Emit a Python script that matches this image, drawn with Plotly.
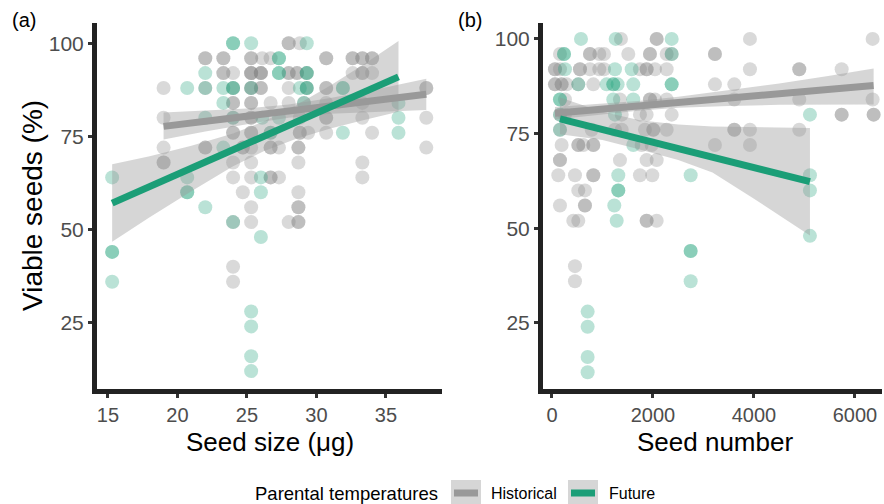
import numpy as np
import plotly.graph_objects as go

# ---------------- Panel (a): seed size ----------------
a_hist_x = [28.0, 28.8,
            22.0, 23.3, 25.3, 26.1, 26.7, 30.7, 32.6, 33.3, 34.0,
            23.3, 24.0, 25.3, 26.0, 28.0, 28.6, 29.3, 32.6, 33.3, 34.0,
            19.0, 22.0, 24.0, 25.3, 26.0, 28.0, 29.3, 30.7, 37.9,
            24.0, 25.3, 26.7, 28.0, 29.1, 30.7, 33.3,
            19.0, 24.0, 25.3, 28.8, 30.7, 33.3, 37.9,
            24.0, 25.3, 26.7, 28.8, 29.4, 30.7, 34.0,
            19.0, 22.0, 24.7, 25.3, 26.7, 27.3, 28.7, 37.9,
            19.0, 24.0, 25.3, 28.7, 33.3,
            24.0, 25.3, 26.7, 27.3, 33.3,
            24.7, 28.7,
            25.3, 28.7,
            24.0, 25.3, 28.0, 28.7,
            24.0, 24.0]
a_hist_y = [100, 100,
            96, 96, 96, 96, 96, 96, 96, 96, 96,
            92, 92, 92, 92, 92, 92, 92, 92, 92, 92,
            88, 88, 88, 88, 88, 88, 88, 88, 88,
            84, 84, 84, 84, 84, 84, 84,
            80, 80, 80, 80, 80, 80, 80,
            76, 76, 76, 76, 76, 76, 76,
            72, 72, 72, 72, 72, 72, 72, 72,
            68, 68, 68, 68, 68,
            64, 64, 64, 64, 64,
            60, 60,
            56, 56,
            52, 52, 52, 52,
            40, 36]
a_hist_n = [2, 1,
            2, 2, 2, 1, 1, 2, 2, 2, 2,
            2, 1, 3, 3, 2, 2, 1, 1, 2, 1,
            1, 1, 1, 2, 2, 1, 1, 2, 2,
            2, 2, 1, 1, 1, 1, 1,
            1, 1, 2, 1, 2, 1, 1,
            2, 2, 1, 2, 1, 1, 1,
            1, 2, 2, 1, 2, 1, 2, 1,
            2, 1, 1, 1, 1,
            1, 1, 2, 1, 1,
            1, 1,
            1, 2,
            1, 1, 1, 2,
            1, 1]

a_fut_x = [24.0, 25.3, 29.3,
           27.3,
           22.0, 27.3, 29.3,
           20.7, 22.0, 23.3, 24.0, 25.3, 28.8, 29.3, 31.9,
           23.3, 29.1, 35.9,
           22.0, 24.0, 26.1, 27.3, 35.9,
           26.7, 31.9, 35.9,
           23.3,
           15.3, 20.7, 26.0,
           20.7, 26.0,
           22.0, 24.0, 26.0, 15.3, 15.3,
           25.3, 25.3, 25.3, 25.3]
a_fut_y = [100, 100, 100,
           96,
           92, 92, 92,
           88, 88, 88, 88, 88, 88, 88, 88,
           84, 84, 84,
           80, 80, 80, 80, 80,
           76, 76, 76,
           72,
           64, 64, 64,
           60, 60,
           56, 52, 48, 44, 36,
           28, 24, 16, 12]
a_fut_n = [2, 1, 1,
           2,
           1, 2, 2,
           1, 1, 1, 2, 1, 1, 2, 2,
           1, 1, 1,
           1, 1, 1, 1, 1,
           1, 1, 1,
           1,
           1, 1, 1,
           2, 1,
           1, 1, 1, 2, 1,
           1, 1, 1, 1]

# fitted lines and confidence bands
a_hist_fit_x = [19.0, 37.9]
a_hist_fit_y = [77.7, 86.3]
a_hist_band_x = [19.0, 22.0, 25.0, 28.0, 31.0, 34.0, 37.9]
a_hist_band_lo = [74.2, 76.3, 78.3, 80.0, 81.1, 81.6, 82.1]
a_hist_band_hi = [81.4, 82.0, 82.5, 83.6, 85.3, 87.4, 90.5]

a_fut_fit_x = [15.3, 35.9]
a_fut_fit_y = [57.1, 91.0]
a_fut_band_x = [15.3, 18.0, 21.0, 24.0, 26.2, 28.5, 31.0, 33.5, 35.9]
a_fut_band_lo = [46.7, 53.3, 60.3, 67.0, 71.0, 74.3, 77.1, 79.5, 81.6]
a_fut_band_hi = [67.5, 69.7, 72.5, 75.8, 79.0, 83.3, 88.7, 94.6, 100.6]

# ---------------- Panel (b): seed number ----------------
b_hist_x = [1366, 2073, 3920, 6349,
            158, 752, 937, 1030, 1511, 1940, 2271, 2370, 3227,
            59, 158, 554, 752, 937, 1030, 1742, 1874, 2039, 2271, 3920, 4897, 5736,
            59, 191, 290, 521, 818, 3227, 3610,
            257, 1346, 1940, 2039, 2271, 3610, 4897, 6349,
            158, 257, 1380, 1742, 1874, 2370, 5736, 6369,
            158, 786, 1247, 1380, 1841, 2006, 2271, 3610, 3920, 4897,
            191, 521, 620, 818, 1775, 1973, 3227, 3920,
            158, 1346, 1874, 2073,
            125, 455, 818, 1742, 1986,
            521, 653,
            158, 653,
            422, 521, 1874, 2073,
            455, 455]
b_hist_y = [100, 100, 100, 100,
            96, 96, 96, 96, 96, 96, 96, 96, 96,
            92, 92, 92, 92, 92, 92, 92, 92, 92, 92, 92, 92, 92,
            88, 88, 88, 88, 88, 88, 88,
            84, 84, 84, 84, 84, 84, 84, 84,
            80, 80, 80, 80, 80, 80, 80, 80,
            76, 76, 76, 76, 76, 76, 76, 76, 76, 76,
            72, 72, 72, 72, 72, 72, 72, 72,
            68, 68, 68, 68,
            64, 64, 64, 64, 64,
            60, 60,
            56, 56,
            52, 52, 52, 52,
            40, 36]
b_hist_n = [1, 2, 1, 1,
            1, 2, 1, 1, 1, 2, 1, 1, 2,
            2, 1, 2, 1, 1, 1, 1, 2, 1, 1, 1, 2, 1,
            2, 2, 1, 1, 1, 1, 1,
            1, 1, 2, 1, 1, 1, 1, 1,
            1, 1, 1, 1, 1, 1, 2, 2,
            1, 1, 1, 1, 1, 2, 1, 2, 1, 1,
            1, 2, 1, 2, 1, 1, 1, 1,
            2, 1, 1, 1,
            1, 1, 2, 1, 1,
            1, 1,
            1, 2,
            1, 1, 2, 1,
            1, 1]

b_fut_x = [574, 1261, 2370,
           238, 2370,
           257, 1247, 1578,
           521, 1082, 1214, 1300, 1610, 2370,
           158, 1214, 1610,
           158, 1247, 5108,
           158,
           1610,
           1313, 2746, 5108,
           1313, 5108,
           1234, 1281, 5108, 2746, 2746,
           706, 706, 706, 706]
b_fut_y = [100, 100, 100,
           96, 96,
           92, 92, 92,
           88, 88, 88, 88, 88, 88,
           84, 84, 84,
           80, 80, 80,
           76,
           72,
           64, 64, 64,
           60, 60,
           56, 52, 48, 44, 36,
           28, 24, 16, 12]
b_fut_n = [1, 1, 1,
           2, 1,
           1, 1, 1,
           1, 1, 2, 1, 1, 2,
           2, 1, 1,
           1, 1, 1,
           1,
           1,
           1, 1, 1,
           2, 1,
           1, 1, 1, 2, 1,
           1, 1, 1, 1]

b_hist_fit_x = [59, 6369]
b_hist_fit_y = [80.4, 87.7]
b_hist_band_x = [59, 1000, 1700, 2500, 3500, 4500, 5500, 6369]
b_hist_band_lo = [78.7, 80.1, 81.0, 81.8, 82.3, 82.6, 82.7, 82.7]
b_hist_band_hi = [82.0, 82.9, 83.6, 84.7, 86.4, 88.2, 90.3, 92.2]

b_fut_fit_x = [158, 5108]
b_fut_fit_y = [78.9, 62.3]
b_fut_band_x = [158, 1000, 1741, 2500, 3178, 4000, 4600, 5108]
b_fut_band_lo = [74.8, 73.3, 70.8, 68.0, 64.7, 57.8, 52.6, 48.1]
b_fut_band_hi = [84.5, 80.8, 78.5, 77.4, 76.9, 76.7, 76.6, 76.5]

# ---------------- styling ----------------
FONT = "Liberation Sans, Arial, sans-serif"
HIST_LINE = "#999999"
FUT_LINE = "#1b9e77"
HIST_PT = "rgba(128,128,128,0.30)"
FUT_PT = "rgba(27,158,119,0.30)"
BAND = "rgba(153,153,153,0.40)"

fig = go.Figure()


def add_points(x, y, n, color, xa, ya):
    fig.add_trace(go.Scatter(
        x=np.repeat(x, n), y=np.repeat(y, n), mode="markers",
        marker=dict(size=14, color=color, line=dict(width=0)),
        xaxis=xa, yaxis=ya, hoverinfo="skip"))


def add_band(bx, lo, hi, xa, ya):
    fig.add_trace(go.Scatter(
        x=list(bx) + list(bx)[::-1], y=list(hi) + list(lo)[::-1],
        mode="lines", fill="toself", fillcolor=BAND,
        line=dict(width=0), xaxis=xa, yaxis=ya, hoverinfo="skip"))


def add_fit(fx, fy, color, xa, ya):
    fig.add_trace(go.Scatter(
        x=fx, y=fy, mode="lines", line=dict(color=color, width=7),
        xaxis=xa, yaxis=ya, hoverinfo="skip"))


add_points(a_hist_x, a_hist_y, a_hist_n, HIST_PT, "x", "y")
add_points(a_fut_x, a_fut_y, a_fut_n, FUT_PT, "x", "y")
add_band(a_hist_band_x, a_hist_band_lo, a_hist_band_hi, "x", "y")
add_band(a_fut_band_x, a_fut_band_lo, a_fut_band_hi, "x", "y")
add_fit(a_hist_fit_x, a_hist_fit_y, HIST_LINE, "x", "y")
add_fit(a_fut_fit_x, a_fut_fit_y, FUT_LINE, "x", "y")

add_points(b_hist_x, b_hist_y, b_hist_n, HIST_PT, "x2", "y2")
add_points(b_fut_x, b_fut_y, b_fut_n, FUT_PT, "x2", "y2")
add_band(b_hist_band_x, b_hist_band_lo, b_hist_band_hi, "x2", "y2")
add_band(b_fut_band_x, b_fut_band_lo, b_fut_band_hi, "x2", "y2")
add_fit(b_hist_fit_x, b_hist_fit_y, HIST_LINE, "x2", "y2")
add_fit(b_fut_fit_x, b_fut_fit_y, FUT_LINE, "x2", "y2")

W, H = 884, 504
ydom = [(H - 389) / H, (H - 23) / H]

axis_common = dict(showgrid=False, zeroline=False, showline=True, linecolor="#222222",
                   linewidth=5, ticks="outside", ticklen=4, tickwidth=2.5, tickcolor="#333333",
                   tickfont=dict(family=FONT, size=21, color="#4d4d4d"), automargin=False)
xtickfont = dict(family=FONT, size=20, color="#4d4d4d")

fig.update_layout(
    width=W, height=H, margin=dict(l=0, r=0, t=0, b=0),
    plot_bgcolor="white", paper_bgcolor="white", showlegend=False,
    font=dict(family=FONT),
    xaxis=dict(domain=[97 / W, 442 / W], range=[14.21, 39.03], tickvals=[15, 20, 25, 30, 35],
               anchor="y", **axis_common),
    yaxis=dict(domain=ydom, range=[7.2, 105.45], tickvals=[25, 50, 75, 100], anchor="x",
               **axis_common),
    xaxis2=dict(domain=[543 / W, 882 / W], range=[-178, 6535], tickvals=[0, 2000, 4000, 6000],
                anchor="y2", **axis_common),
    yaxis2=dict(domain=ydom, range=[7.57, 104.2], tickvals=[25, 50, 75, 100], anchor="x2",
                **axis_common),
)
fig.update_xaxes(tickfont=xtickfont)


def px(x):
    return x / W


def py(y):
    return 1 - y / H


ann = []
ann.append(dict(text="(a)", x=px(10), y=py(20), xanchor="left", yanchor="middle",
                font=dict(size=20, color="black")))
ann.append(dict(text="(b)", x=px(456), y=py(20), xanchor="left", yanchor="middle",
                font=dict(size=20, color="black")))
ann.append(dict(text="Seed size (μg)", x=px(270), y=py(442), xanchor="center", yanchor="middle",
                font=dict(size=26, color="black")))
ann.append(dict(text="Seed number", x=px(715), y=py(442), xanchor="center", yanchor="middle",
                font=dict(size=26, color="black")))
ann.append(dict(text="Viable seeds (%)", x=px(32), y=py(206), xanchor="center", yanchor="middle",
                textangle=-90, font=dict(size=28, color="black")))
# legend
ann.append(dict(text="Parental temperatures", x=px(440), y=py(493), xanchor="right",
                yanchor="middle", font=dict(size=18.5, color="black")))
ann.append(dict(text="Historical", x=px(489), y=py(493), xanchor="left", yanchor="middle",
                font=dict(size=16, color="black")))
ann.append(dict(text="Future", x=px(607), y=py(493), xanchor="left", yanchor="middle",
                font=dict(size=16, color="black")))
for a in ann:
    a.update(xref="paper", yref="paper", showarrow=False)
fig.update_layout(annotations=ann)

shapes = []
for x0, col in [(451, HIST_LINE), (568, FUT_LINE)]:
    shapes.append(dict(type="rect", xref="paper", yref="paper", x0=px(x0), x1=px(x0 + 30),
                       y0=py(504), y1=py(480), fillcolor=BAND, line=dict(width=0), layer="above"))
    shapes.append(dict(type="line", xref="paper", yref="paper", x0=px(x0 + 3), x1=px(x0 + 27),
                       y0=py(493), y1=py(493), line=dict(color=col, width=7), layer="above"))
fig.update_layout(shapes=shapes)

fig.write_html("out.html")
